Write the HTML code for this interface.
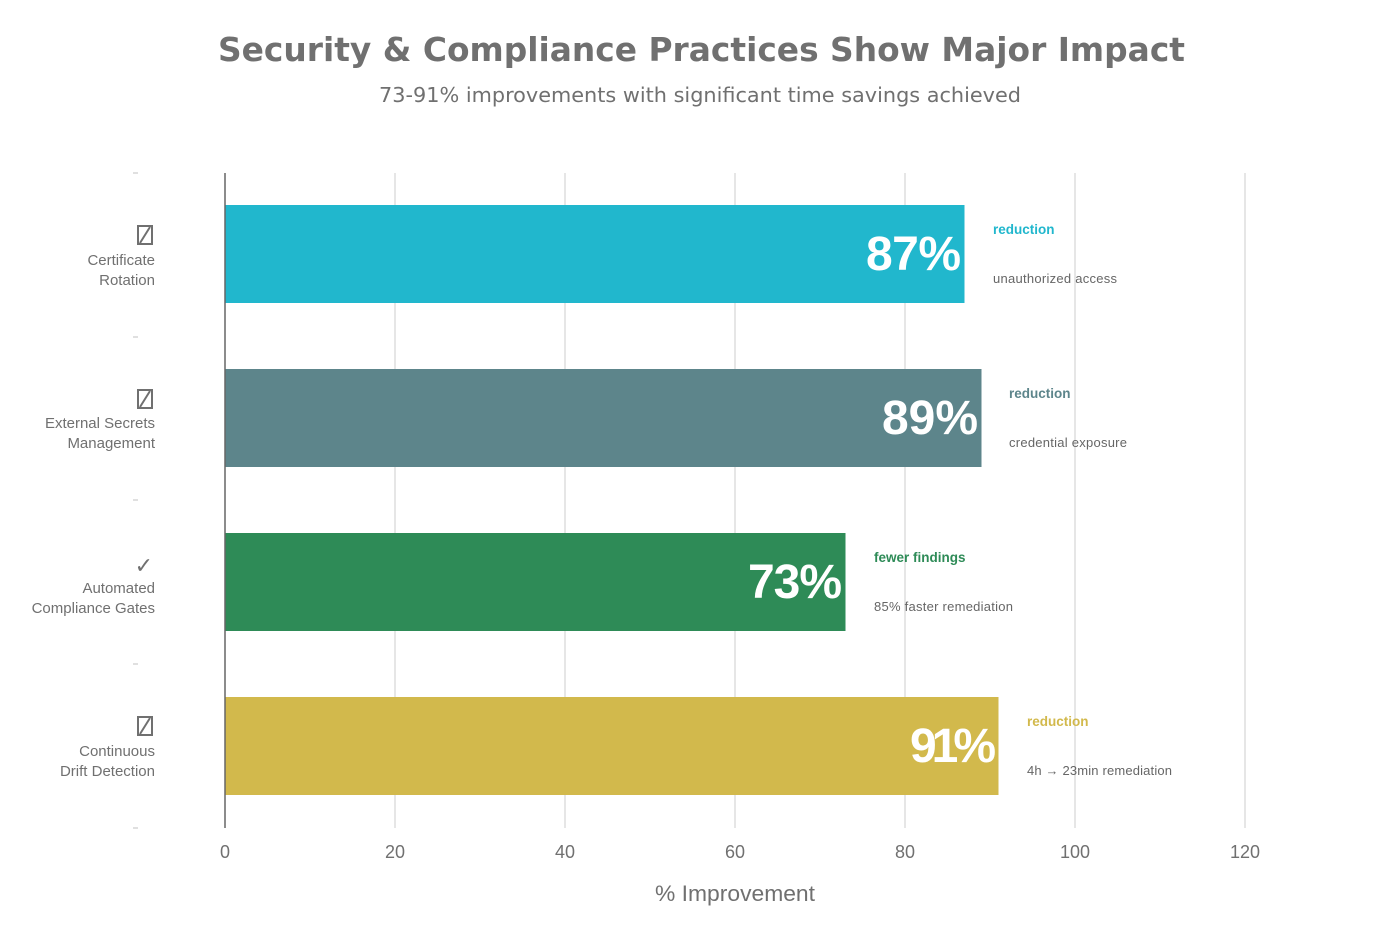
<!DOCTYPE html>
<html><head><meta charset="utf-8"><style>
body{margin:0;background:#fff;width:1400px;height:933px;overflow:hidden}
text{font-family:"Liberation Sans","DejaVu Sans",sans-serif}
</style></head><body>
<svg width="1400" height="933" xmlns="http://www.w3.org/2000/svg">
<rect width="1400" height="933" fill="#fff"/>
<text x="218" y="61" font-size="33" font-weight="bold" fill="#707070" style="font-family:'DejaVu Sans',sans-serif" textLength="967" lengthAdjust="spacingAndGlyphs">Security &amp; Compliance Practices Show Major Impact</text>
<text x="379" y="102" font-size="20" fill="#707070" style="font-family:'DejaVu Sans',sans-serif" textLength="642" lengthAdjust="spacingAndGlyphs">73-91% improvements with significant time savings achieved</text>
<g stroke="#dedede" stroke-width="1.5">
<line x1="395" y1="173" x2="395" y2="828"/><line x1="565" y1="173" x2="565" y2="828"/>
<line x1="735" y1="173" x2="735" y2="828"/><line x1="905" y1="173" x2="905" y2="828"/>
<line x1="1075" y1="173" x2="1075" y2="828"/><line x1="1245" y1="173" x2="1245" y2="828"/>
</g>
<g stroke="#ccc" stroke-width="1.2">
<line x1="133" y1="173" x2="138" y2="173"/><line x1="133" y1="337" x2="138" y2="337"/>
<line x1="133" y1="500" x2="138" y2="500"/><line x1="133" y1="664" x2="138" y2="664"/>
<line x1="133" y1="828" x2="138" y2="828"/>
</g>
<rect x="225" y="205" width="739.5" height="98" fill="#21b7cd"/>
<rect x="225" y="369" width="756.5" height="98" fill="#5d858b"/>
<rect x="225" y="533" width="620.5" height="98" fill="#2e8b57"/>
<rect x="225" y="697" width="773.5" height="98" fill="#d2b94c"/>
<line x1="225" y1="173" x2="225" y2="828" stroke="#666" stroke-width="1.5"/>
<g font-size="48" font-weight="bold" fill="#fff" lengthAdjust="spacingAndGlyphs">
<text x="866" y="270" textLength="95">87%</text><text x="882" y="434" textLength="96">89%</text>
<text x="748" y="598" textLength="94">73%</text><text x="910" y="762" textLength="86" lengthAdjust="spacing">91%</text>
</g>
<g font-size="13.5">
<text x="993" y="234" fill="#21b7cd" font-weight="bold">reduction</text>
<text x="993" y="283" fill="#666" font-size="13" textLength="124">unauthorized access</text>
<text x="1009" y="398" fill="#5d858b" font-weight="bold">reduction</text>
<text x="1009" y="447" fill="#666" font-size="13" textLength="118">credential exposure</text>
<text x="874" y="562" fill="#2e8b57" font-weight="bold">fewer findings</text>
<text x="874" y="611" fill="#666" font-size="13" textLength="139">85% faster remediation</text>
<text x="1027" y="726" fill="#d2b94c" font-weight="bold">reduction</text>
<text x="1027" y="775" fill="#666" font-size="13" textLength="145">4h → 23min remediation</text>
</g>
<g font-size="15" fill="#707070" text-anchor="end">
<text x="155" y="265">Certificate</text><text x="155" y="285">Rotation</text>
<text x="155" y="428">External Secrets</text><text x="155" y="448">Management</text>
<text x="155" y="593">Automated</text><text x="155" y="613">Compliance Gates</text>
<text x="155" y="756">Continuous</text><text x="155" y="776">Drift Detection</text>
</g>
<g stroke="#707070" stroke-width="2" fill="none">
<rect x="138" y="226" width="14" height="18"/><line x1="140" y1="243" x2="150" y2="227"/>
<rect x="138" y="390" width="14" height="18"/><line x1="140" y1="407" x2="150" y2="391"/>
<rect x="138" y="717" width="14" height="18"/><line x1="140" y1="734" x2="150" y2="718"/>
</g>
<text x="153" y="573" text-anchor="end" font-size="22" fill="#707070">✓</text>
<g font-size="18" fill="#707070" text-anchor="middle">
<text x="225" y="858">0</text><text x="395" y="858">20</text><text x="565" y="858">40</text>
<text x="735" y="858">60</text><text x="905" y="858">80</text><text x="1075" y="858">100</text>
<text x="1245" y="858">120</text>
</g>
<text x="655" y="901" font-size="22" fill="#707070" textLength="160" lengthAdjust="spacingAndGlyphs">% Improvement</text>
</svg>
</body></html>
